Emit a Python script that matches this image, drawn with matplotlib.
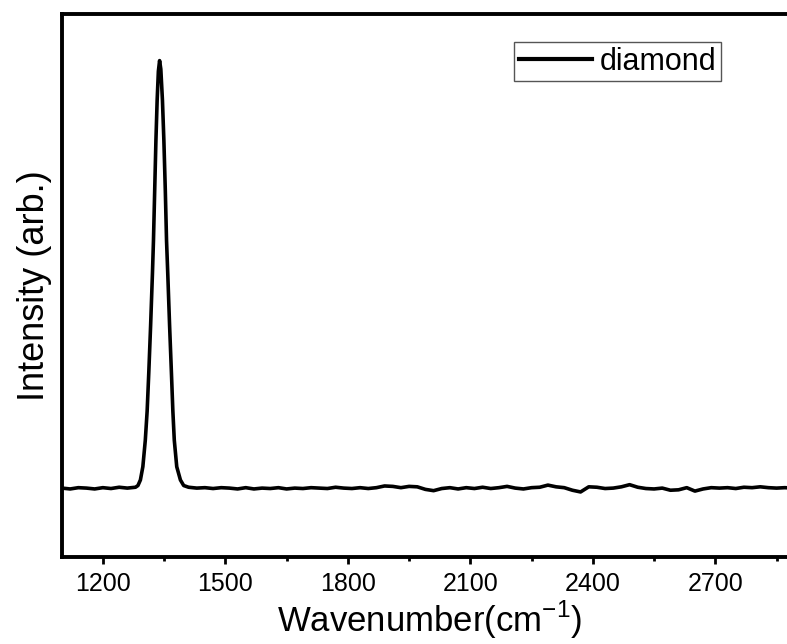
import numpy as np
import matplotlib
matplotlib.use("Agg")
from matplotlib import pyplot as plt
from matplotlib.ticker import MultipleLocator

plt.rcParams['font.family'] = ['Liberation Sans', 'DejaVu Sans']
plt.rcParams['mathtext.fontset'] = 'custom'
plt.rcParams['mathtext.rm'] = 'Liberation Sans'

# Raman spectrum (wavenumber in cm^-1, intensity normalised to the peak)
left_x = [1100, 1120, 1140, 1160, 1180, 1200, 1220, 1240, 1260, 1280]
left_y = [0.000, -0.002, 0.001, 0.000, -0.002, 0.001, -0.001, 0.002, 0.000, 0.002]

peak_x = [1286, 1292, 1298, 1304, 1308.5, 1312.5, 1317, 1321.5, 1324, 1327, 1330, 1333, 1336,
          1339, 1342, 1346, 1349.5, 1353, 1356, 1359, 1363.5, 1368, 1371.5, 1375, 1381, 1390, 1398]
peak_y = [0.006, 0.019, 0.050, 0.112, 0.180, 0.269, 0.380, 0.502, 0.579, 0.696, 0.813, 0.907, 0.975,
          1.000, 0.980, 0.907, 0.813, 0.696, 0.579, 0.502, 0.380, 0.269, 0.180, 0.112, 0.050, 0.019, 0.006]

right_x = [1410, 1430, 1450, 1470, 1490, 1510, 1530, 1550, 1570, 1590, 1610, 1630, 1650, 1670,
           1690, 1710, 1730, 1750, 1770, 1790, 1810, 1830, 1850, 1870, 1890, 1910, 1930, 1950,
           1970, 1990, 2010, 2030, 2050, 2070, 2090, 2110, 2130, 2150, 2170, 2190, 2210, 2230,
           2250, 2270, 2290, 2310, 2330, 2350, 2370, 2390, 2410, 2430, 2450, 2470, 2490, 2510,
           2530, 2550, 2570, 2590, 2610, 2630, 2650, 2670, 2690, 2710, 2730, 2750, 2770, 2790,
           2810, 2830, 2850, 2870, 2890, 2900]
right_y = [0.002, 0.000, 0.001, -0.001, 0.001, 0.000, -0.002, 0.001, -0.002, 0.000, -0.001, 0.001,
           -0.002, 0.000, -0.001, 0.001, 0.000, -0.001, 0.002, 0.000, -0.001, 0.001, -0.001, 0.001,
           0.005, 0.004, 0.001, 0.004, 0.003, -0.003, -0.006, -0.001, 0.001, -0.002, 0.001, -0.001,
           0.002, -0.001, 0.001, 0.004, 0.000, -0.002, 0.001, 0.002, 0.007, 0.003, 0.001, -0.005,
           -0.009, 0.003, 0.002, -0.001, 0.000, 0.003, 0.008, 0.002, -0.001, -0.002, 0.000, -0.005,
           -0.004, 0.001, -0.007, -0.002, 0.001, 0.000, 0.001, -0.001, 0.002, 0.001, 0.003, 0.001,
           0.000, 0.001, 0.000, 0.000]

wavenumber = np.array(left_x + peak_x + right_x)
intensity = np.array(left_y + peak_y + right_y)

fig = plt.figure(figsize=(7.87, 6.44), dpi=100)
# right edge of the frame runs past the picture, like in the original
ax = fig.add_axes([62 / 787, 87.5 / 644, 735 / 787, 542.5 / 644])

ax.plot(wavenumber, intensity, color='black', lw=2.6, label='diamond')

ax.set_xlim(1100, 2900)
ax.set_ylim(-0.160, 1.109)
ax.xaxis.set_major_locator(MultipleLocator(300))
ax.xaxis.set_minor_locator(MultipleLocator(150))
ax.set_yticks([])
ax.tick_params(axis='x', which='major', direction='out', length=5, width=2, labelsize=18, pad=6)
ax.tick_params(axis='x', which='minor', direction='out', length=3, width=2)

for sp in ax.spines.values():
    sp.set_linewidth(2.8)

ax.set_xlabel('Wavenumber(cm$^{\\mathrm{-1}}$)', fontsize=25, labelpad=2)
ax.set_ylabel('Intensity (arb.)', fontsize=26, labelpad=7)

leg = ax.legend(loc='upper right', bbox_to_anchor=(0.8966, 0.9484), borderaxespad=0,
                fontsize=22, handlelength=2.4, handletextpad=0.25, borderpad=0.15,
                fancybox=False, framealpha=1)
leg.get_frame().set_edgecolor('#555555')
leg.get_frame().set_linewidth(1.0)
leg.get_lines()[0].set_linewidth(3)

fig.savefig('out.png', dpi=100)
